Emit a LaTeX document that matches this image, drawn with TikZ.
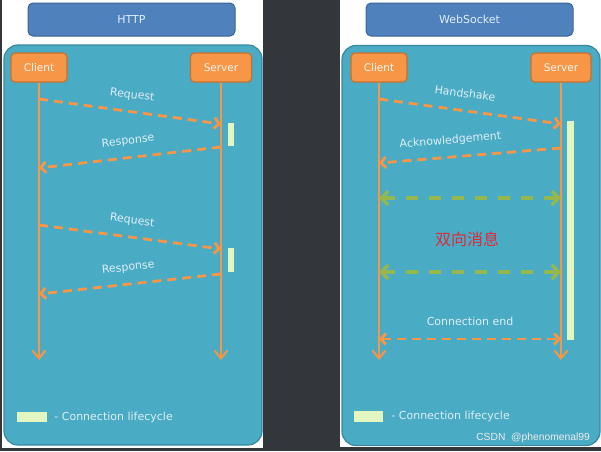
\documentclass[tikz,border=0pt]{standalone}
\usepackage{fontspec}
\setmainfont{DejaVu Sans}
\newfontfamily\cjkfont{Noto Sans CJK SC}
\newfontfamily\wmfont{Liberation Sans}
\usepackage{tikz}
\usetikzlibrary{arrows.meta, positioning}
\definecolor{pagebg}{RGB}{51,55,59}
\definecolor{hdrblue}{RGB}{79,129,189}
\definecolor{hdrline}{RGB}{58,100,152}
\definecolor{panelfill}{RGB}{74,171,197}
\definecolor{panelline}{RGB}{56,136,160}
\definecolor{orng}{RGB}{247,150,70}
\definecolor{orngline}{RGB}{200,112,45}
\definecolor{lifebar}{RGB}{226,246,192}
\definecolor{msggreen}{RGB}{148,184,78}
\definecolor{lbltext}{RGB}{222,238,246}
\definecolor{cnred}{RGB}{222,42,58}

\begin{document}
\begin{tikzpicture}[x=1pt, y=-1pt, >={Straight Barb[length=5pt,width=11pt]},
  hdr/.style={draw=hdrline, fill=hdrblue, line width=1pt, rounded corners=5pt,
    minimum width=207pt, minimum height=33pt, text=lbltext,
    font=\fontsize{11}{13}\selectfont},
  panelbox/.style={draw=panelline, fill=panelfill, line width=1.2pt,
    rounded corners=14pt, minimum width=258pt, minimum height=400pt},
  actor/.style={draw=orngline, fill=orng, line width=1.2pt, rounded corners=4pt,
    minimum height=29pt, text=white!92!orng, font=\fontsize{10.5}{12}\selectfont},
  life/.style={orng, line width=2pt, -{Straight Barb[length=8pt,width=13pt]}},
  msg/.style={orng, line width=2.8pt, dash pattern=on 9pt off 6pt},
  duplex/.style={draw=msggreen, line width=3.2pt, dash pattern=on 12pt off 11pt,
    {Straight Barb[length=7pt,width=14pt]}-{Straight Barb[length=7pt,width=14pt]}},
  msglabel/.style={text=lbltext, font=\fontsize{11}{13}\selectfont, inner sep=0pt,
    text height=8pt, text depth=2.5pt, sloped, above=9.5pt},
  bar/.style={fill=lifebar, inner sep=0pt},
  legendtext/.style={text=lbltext, font=\fontsize{11}{13}\selectfont, inner sep=0pt, anchor=west}]
  \useasboundingbox (0,0) rectangle (601,451);
  % backdrop
  \fill[pagebg] (0,0) rectangle (601,451);
  \fill[white] (2,0) rectangle (263,448);
  \fill[white] (340,0) rectangle (601,447);

  % HTTP
  \node[hdr] (hhdr) at (131.5,19.5) {HTTP};
  \node[panelbox] (hbox) at (133,245) {};
  \node[actor, minimum width=56pt] (hc) at (39,67.5) {Client};
  \node[actor, minimum width=61pt] (hs) at (221,67.5) {Server};
  \coordinate (hcEnd) at (39,360);
  \coordinate (hsEnd) at (221,360);
  \draw[life] (hc.south) -- (hcEnd);
  \draw[life] (hs.south) -- (hsEnd);
  \node[bar, minimum width=6pt, minimum height=23pt] (hbar1) at (231,134.5) {};
  \node[bar, minimum width=6pt, minimum height=24pt] (hbar2) at (231,260) {};
  \coordinate (hc1) at (39,99);  \coordinate (hs1) at (221,124);
  \coordinate (hs2) at (221,147); \coordinate (hc2) at (39,168);
  \coordinate (hc3) at (39,225); \coordinate (hs3) at (221,249);
  \coordinate (hs4) at (221,274); \coordinate (hc4) at (39,294);
  \draw[msg, ->] (hc1) -- node[msglabel] {Request} (hs1);
  \draw[msg, ->] (hs2) -- node[msglabel] {Response} (hc2);
  \draw[msg, ->] (hc3) -- node[msglabel] {Request} (hs3);
  \draw[msg, ->] (hs4) -- node[msglabel] {Response} (hc4);
  \node[bar, minimum width=30pt, minimum height=10pt] (hlg) at (32,417) {};
  \node[legendtext, right=7pt of hlg] (hlgtext) {- Connection lifecycle};

  % WebSocket
  \node[hdr] (whdr) at (469.5,19.5) {WebSocket};
  \node[panelbox] (wbox) at (471,245.5) {};
  \node[actor, minimum width=56pt] (wc) at (379,67.5) {Client};
  \node[actor, minimum width=60pt] (ws) at (561,67.5) {Server};
  \coordinate (wcEnd) at (379,360);
  \coordinate (wsEnd) at (561,360);
  \draw[life] (wc.south) -- (wcEnd);
  \draw[life] (ws.south) -- (wsEnd);
  \node[bar, minimum width=7pt, minimum height=219pt] (wbar) at (570.5,230.5) {};
  \coordinate (wc1) at (379,99);  \coordinate (ws1) at (561,124);
  \coordinate (ws2) at (561,148); \coordinate (wc2) at (379,163);
  \coordinate (wc3) at (379,198); \coordinate (ws3) at (561,198);
  \coordinate (wc4) at (379,272); \coordinate (ws4) at (561,272);
  \coordinate (wc5) at (379,339); \coordinate (ws5) at (561,339);
  \draw[msg, ->] (wc1) -- node[msglabel, pos=0.46] {Handshake} (ws1);
  \draw[msg, ->] (ws2) -- node[msglabel, pos=0.6] {Acknowledgement} (wc2);
  \draw[duplex] (wc3) -- (ws3);
  \draw[duplex] (wc4) -- (ws4);
  \draw[msg, <->] (wc5) -- node[msglabel] {Connection end} (ws5);
  \node[text=cnred, font=\cjkfont\fontsize{16}{18}\selectfont] (duplexmsg) at (467,239) {双向消息};
  \node[bar, minimum width=29pt, minimum height=11pt] (wlg) at (368.5,416) {};
  \node[legendtext, right=8pt of wlg] (wlgtext) {- Connection lifecycle};
  \node[text=white!92!black, font=\wmfont\fontsize{10.3}{12}\selectfont, anchor=east, inner sep=0pt] (mark) at (590,438) {CSDN\ \ @phenomenal99};
\end{tikzpicture}
\end{document}
